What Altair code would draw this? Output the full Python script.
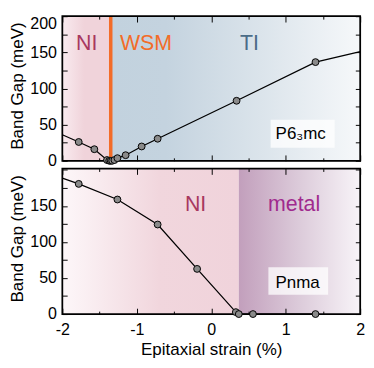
import altair as alt
import pandas as pd

# ---------------- data ----------------
# P6_3mc phase (top panel): computed points
P63_STRAIN = [-1.78, -1.57, -1.40, -1.37, -1.35, -1.33, -1.30, -1.26, -1.15, -0.935, -0.72, 0.34, 1.40]
P63_GAP = [26, 16, 1, 0, 0, 0, 1, 3.6, 7.7, 19.8, 30.5, 83, 136.5]
# where the drawn line leaves the plot
P63_EDGE_STRAIN = [-2.0, 2.0]
P63_EDGE_GAP = [36, 151]

# Pnma phase (bottom panel)
PNMA_STRAIN = [-1.78, -1.26, -0.72, -0.19, 0.33, 0.37, 0.56, 1.40]
PNMA_GAP = [180.7, 159, 124.3, 62.7, 2.7, 0, 0, 0]
PNMA_EDGE_STRAIN = [-2.0]
PNMA_EDGE_GAP = [188.8]

# phase regions
P63_PHASES = ["NI", "TI"]
P63_PHASE_START = [-2.0, -1.35]
P63_PHASE_END = [-1.35, 2.0]
WSM_STRAIN = [-1.35]

PNMA_PHASES = ["NI", "metal"]
PNMA_PHASE_START = [-2.0, 0.37]
PNMA_PHASE_END = [0.37, 2.0]

# text
TOP_LABELS = ["NI", "WSM", "TI"]
BOTTOM_LABELS = ["NI", "metal"]
TOP_NAME = ["P6₃mc"]
BOTTOM_NAME = ["Pnma"]

# axes
X_DOMAIN = [-2, 2]
X_TICKS = [-2, -1.5, -1, -0.5, 0, 0.5, 1, 1.5, 2]
X_LABELS = [-2, -1, 0, 1, 2]
Y_TICKS = [0, 25, 50, 75, 100, 125, 150, 175, 200]
Y_LABELS_TOP = [0, 50, 100, 150, 200]
Y_LABELS_BOTTOM = [0, 50, 100, 150]
TOP_Y_DOMAIN = [0, 200]
BOTTOM_Y_DOMAIN = [0, 202]

# ---------------- style ----------------
W = 307
H1 = 149
H2 = 150
FONT = "Liberation Sans"


def grad(stops):
    return alt.LinearGradient(
        gradient="linear", x1=0, x2=1, y1=0, y2=0,
        stops=[alt.GradientStop(color=c, offset=o) for o, c in stops],
    )


TOP_GRADS = [
    grad([(0, "#f9ebef"), (0.45, "#f0d3da"), (1, "#f0d3da")]),
    grad([(0, "#c2d2de"), (0.22, "#c4d3df"), (0.6, "#dbe4eb"), (1, "#f6f8fa")]),
]
BOTTOM_GRADS = [
    grad([(0, "#fdf7f9"), (0.55, "#f1d6dd"), (1, "#f0d3db")]),
    grad([(0, "#c29fbc"), (0.5, "#dccbda"), (1, "#f8f4f8")]),
]
TOP_LABEL_COLORS = ["#a8385f", "#f36c28", "#4b6c87"]
BOTTOM_LABEL_COLORS = ["#a8385f", "#a02a8e"]
TOP_LABEL_POS = [(25.2, 35), (86.2, 35), (192.9, 35)]
BOTTOM_LABEL_POS = [(137.4, 44.2), (238.9, 44.2)]


def x_axis(H, show):
    kw = dict(
        values=X_TICKS, grid=True, gridColor="black", gridOpacity=1, gridWidth=1,
        gridDash={"condition": {"test": "datum.value % 1 === 0", "value": [6, H - 12]},
                  "value": [3, H - 6]},
        ticks=False, tickSize=0, domain=False, zindex=1, labelOverlap=False,
        labelFlush=False,
    )
    if show:
        kw.update(
            labels=True,
            labelExpr="indexof(" + str(X_LABELS) + ", datum.value) >= 0 ? "
                      "(datum.value < 0 ? '-' + (-datum.value) : '' + datum.value) : ''",
            labelFontSize=16.5, labelColor="black", labelPadding=8, labelFont=FONT,
            title="Epitaxial strain (%)", titleFontSize=17.5, titleFontWeight="normal",
            titleColor="black", titlePadding=3, titleFont=FONT,
        )
    else:
        kw.update(labels=False, title=None)
    return alt.Axis(**kw)


def y_axis(labels_list, H):
    return alt.Axis(
        values=Y_TICKS, grid=True, gridColor="black", gridOpacity=1, gridWidth=1,
        gridDash=[5, W - 10], ticks=False, tickSize=0, domain=False, zindex=1,
        labelOverlap=False, labelFlush=False,
        labelExpr="indexof(" + str(labels_list) + ", datum.value) >= 0 ? datum.label : ''",
        labelFontSize=16.5, labelColor="black", labelPadding=6, labelFont=FONT,
        labelBaseline={"condition": {"test": "datum.value === 200", "value": "top"}, "value": "middle"},
        title="Band Gap (meV)", titleFontSize=17.5, titleFontWeight="normal",
        titleColor="black", titlePadding=3, titleFont=FONT, titleY=H / 2 - 3,
    )


def panel(phases, starts, ends, grads, pts_x, pts_y, edge_x, edge_y, ydom, H, show_x,
          ylabels, labels, label_colors, label_pos, name, name_pos, box, rule_x=None):
    xs = alt.Scale(domain=X_DOMAIN, nice=False, zero=False)
    ys = alt.Scale(domain=ydom, nice=False, zero=False)
    xax = x_axis(H, show_x)
    yax = y_axis(ylabels, H)

    def X(f):
        return alt.X(f, type="quantitative", scale=xs, axis=xax)

    def Y(f):
        return alt.Y(f, type="quantitative", scale=ys, axis=yax)

    ph = pd.DataFrame({"phase": phases, "start": starts, "end": ends,
                       "lo": [ydom[0]] * len(phases), "hi": [ydom[1]] * len(phases)})
    layers = []
    for i in range(len(phases)):
        layers.append(
            alt.Chart(ph.iloc[[i]]).mark_rect(fill=grads[i], strokeWidth=0).encode(
                x=X("start"), x2="end", y=Y("lo"), y2="hi")
        )
    if rule_x is not None:
        layers.append(
            alt.Chart(pd.DataFrame({"s": rule_x})).mark_rule(color="#f36c28", strokeWidth=3.6).encode(
                x=X("s"))
        )
    pts = pd.DataFrame({"s": pts_x, "g": pts_y})
    line = pd.concat([pts, pd.DataFrame({"s": edge_x, "g": edge_y})]).sort_values("s")
    frame = pd.DataFrame({"x0": [X_DOMAIN[0]], "x1": [X_DOMAIN[1]], "y0": [ydom[0]], "y1": [ydom[1]]})
    layers.append(
        alt.Chart(frame).mark_rect(filled=False, stroke="black", strokeWidth=1.8).encode(
            x=X("x0"), x2="x1", y=Y("y0"), y2="y1")
    )
    layers.append(
        alt.Chart(line).mark_line(color="black", strokeWidth=1.3).encode(
            x=X("s"), y=Y("g"), order="s:Q")
    )
    layers.append(
        alt.Chart(pts).mark_circle(fill="#8a8a8a", stroke="black", strokeWidth=1, size=50, opacity=1).encode(
            x=X("s"), y=Y("g"))
    )
    # label box
    layers.append(
        alt.Chart(pd.DataFrame({"n": name})).mark_rect(fill="white", opacity=0.75).encode(
            x=alt.value(box[0]), x2=alt.value(box[1]), y=alt.value(box[2]), y2=alt.value(box[3]))
    )
    layers.append(
        alt.Chart(pd.DataFrame({"n": name})).mark_text(
            font=FONT, fontSize=17.5, color="black", align="center", baseline="alphabetic").encode(
            text="n:N", x=alt.value(name_pos[0]), y=alt.value(name_pos[1]))
    )
    for i, lab in enumerate(labels):
        layers.append(
            alt.Chart(pd.DataFrame({"t": [lab]})).mark_text(
                font=FONT, fontSize=22, color=label_colors[i], align="center", baseline="alphabetic").encode(
                text="t:N", x=alt.value(label_pos[i][0]), y=alt.value(label_pos[i][1]))
        )
    return alt.layer(*layers).properties(width=W, height=H)


top = panel(P63_PHASES, P63_PHASE_START, P63_PHASE_END, TOP_GRADS,
            P63_STRAIN, P63_GAP, P63_EDGE_STRAIN, P63_EDGE_GAP, TOP_Y_DOMAIN, H1, False,
            Y_LABELS_TOP, TOP_LABELS, TOP_LABEL_COLORS, TOP_LABEL_POS,
            TOP_NAME, (245.7, 126.7), (214.7, 280.7, 106.7, 135.7), rule_x=WSM_STRAIN)
bottom = panel(PNMA_PHASES, PNMA_PHASE_START, PNMA_PHASE_END, BOTTOM_GRADS,
               PNMA_STRAIN, PNMA_GAP, PNMA_EDGE_STRAIN, PNMA_EDGE_GAP, BOTTOM_Y_DOMAIN, H2, True,
               Y_LABELS_BOTTOM, BOTTOM_LABELS, BOTTOM_LABEL_COLORS, BOTTOM_LABEL_POS,
               BOTTOM_NAME, (242.5, 123.5), (212.4, 274, 101.8, 130.2))

chart = alt.vconcat(top, bottom, spacing=8, bounds="flush").properties(
    padding={"left": 0, "top": 0, "right": 0, "bottom": 0}
).configure_view(stroke=None).configure(font=FONT, background="white")

chart.save("out.html", embed_options={"renderer": "svg", "actions": False})
